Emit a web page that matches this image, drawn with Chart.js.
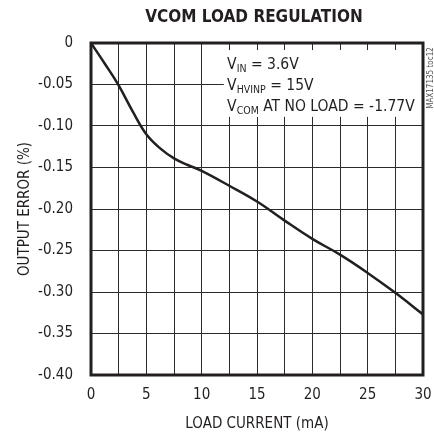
<!DOCTYPE html>
<html>
<head>
<meta charset="utf-8">
<script src="https://cdn.jsdelivr.net/npm/chart.js@4.4.1/dist/chart.umd.min.js"></script>
<style>
  html, body { margin: 0; padding: 0; background: #fff; }
  #wrap { width: 434px; height: 437px; }
</style>
</head>
<body>
<div id="wrap"><canvas id="regChart" width="434" height="437"></canvas></div>
<script>
// load current (mA) and output error (%)
var loadCurrent = [0, 1.25, 2.5, 3.75, 5, 6.25, 7.5, 8.75, 10, 12.5, 15, 17.5, 20, 22.5, 25, 27.5, 30];
var outputError = [0, -0.025, -0.051, -0.082, -0.110, -0.127, -0.139, -0.147, -0.154, -0.172, -0.191, -0.214, -0.236, -0.255, -0.277, -0.301, -0.327];

// grid positions and tick labels
var xGrid = [0, 2.5, 5, 7.5, 10, 12.5, 15, 17.5, 20, 22.5, 25, 27.5, 30];
var xTickLabels = ['0', '5', '10', '15', '20', '25', '30'];
var yTickLabels = ['-0.40', '-0.35', '-0.30', '-0.25', '-0.20', '-0.15', '-0.10', '-0.05', '0'];

var FONT = '"Liberation Sans Narrow", "DejaVu Sans Condensed", sans-serif';
var INK = '#231f20';

// draws the frame, title, condition text box and the part number
var extrasPlugin = {
    id: 'extras',
    beforeDatasetsDraw: function (chart) {
        var ctx = chart.ctx;
        var x = chart.scales.x, y = chart.scales.y;
        // white box behind the conditions text
        var bx = x.getPixelForValue(12), by = y.getPixelForValue(-0.0085);
        ctx.save();
        ctx.fillStyle = '#fff';
        ctx.fillRect(bx, by, chart.chartArea.right - bx, y.getPixelForValue(-0.089) - by);
        ctx.restore();
    },
    afterDraw: function (chart) {
        var ctx = chart.ctx;
        var a = chart.chartArea;
        var x = chart.scales.x, y = chart.scales.y;
        ctx.save();
        // frame
        ctx.strokeStyle = INK;
        ctx.lineWidth = 3;
        ctx.strokeRect(a.left, a.top, a.right - a.left, a.bottom - a.top);

        // title
        ctx.fillStyle = INK;
        ctx.textAlign = 'center';
        ctx.textBaseline = 'middle';
        ctx.font = 'bold 17px ' + FONT;
        ctx.fillText('VCOM LOAD REGULATION', 254, 18);

        // condition text with subscripts
        var tx = x.getPixelForValue(12.3);
        var lines = [
            ['V', 'IN', ' = 3.6V'],
            ['V', 'HVINP', ' = 15V'],
            ['V', 'COM', ' AT NO LOAD = -1.77V']
        ];
        var base = [69, 90, 111];
        ctx.textAlign = 'left';
        ctx.textBaseline = 'alphabetic';
        lines.forEach(function (l, i) {
            var px = tx;
            ctx.font = '15.5px ' + FONT;
            ctx.fillText(l[0], px, base[i]);
            px += ctx.measureText(l[0]).width;
            ctx.font = '10.5px ' + FONT;
            ctx.fillText(l[1], px, base[i] + 3);
            px += ctx.measureText(l[1]).width;
            ctx.font = '15.5px ' + FONT;
            ctx.fillText(l[2], px, base[i]);
        });

        // part number, rotated
        ctx.translate(431, 78);
        ctx.rotate(-Math.PI / 2);
        ctx.textAlign = 'center';
        ctx.textBaseline = 'middle';
        ctx.font = '8px ' + FONT;
        ctx.fillStyle = '#555';
        ctx.fillText('MAX17135 toc12', 0, 0);
        ctx.restore();
    }
};

var ctx = document.getElementById('regChart').getContext('2d');
var regChart = new Chart(ctx, {
    type: 'line',
    data: {
        datasets: [{
            data: loadCurrent.map(function (v, i) { return { x: v, y: outputError[i] }; }),
            borderColor: INK,
            borderWidth: 2.5,
            pointRadius: 0,
            tension: 0.4,
            fill: false
        }]
    },
    options: {
        responsive: false,
        animation: false,
        layout: { padding: { top: 43, right: 11, left: 0, bottom: 0 } },
        plugins: {
            legend: { display: false },
            tooltip: { enabled: false }
        },
        scales: {
            x: {
                type: 'linear',
                min: 0,
                max: 30,
                afterFit: function (scale) {
                    scale.height = 62;
                    scale.paddingLeft = 0;
                    scale.paddingRight = 0;
                },
                afterBuildTicks: function (scale) {
                    scale.ticks = xGrid.map(function (v) { return { value: v }; });
                },
                ticks: {
                    autoSkip: false,
                    maxRotation: 0,
                    padding: 11,
                    color: INK,
                    font: { family: FONT, size: 15 },
                    callback: function (v) {
                        return xTickLabels.indexOf(String(v)) >= 0 ? String(v) : '';
                    }
                },
                grid: { color: '#2b2b2b', lineWidth: 1, drawTicks: false },
                border: { display: false },
                title: {
                    display: true,
                    text: 'LOAD CURRENT (mA)',
                    color: INK,
                    font: { family: FONT, size: 15 },
                    padding: { top: 0, bottom: 4 }
                }
            },
            y: {
                type: 'linear',
                min: -0.4,
                max: 0,
                afterFit: function (scale) {
                    scale.width = 91;
                    scale.paddingTop = 0;
                    scale.paddingBottom = 0;
                },
                afterBuildTicks: function (scale) {
                    scale.ticks = yTickLabels.map(function (t) { return { value: Number(t) }; });
                },
                ticks: {
                    autoSkip: false,
                    padding: 18,
                    color: INK,
                    font: { family: FONT, size: 15 },
                    callback: function (v, i) { return yTickLabels[i]; }
                },
                grid: { color: '#2b2b2b', lineWidth: 1, drawTicks: false },
                border: { display: false },
                title: {
                    display: true,
                    text: 'OUTPUT ERROR (%)',
                    color: INK,
                    font: { family: FONT, size: 15 },
                    padding: { top: 16, bottom: 0 }
                }
            }
        }
    },
    plugins: [extrasPlugin]
});
</script>
</body>
</html>
